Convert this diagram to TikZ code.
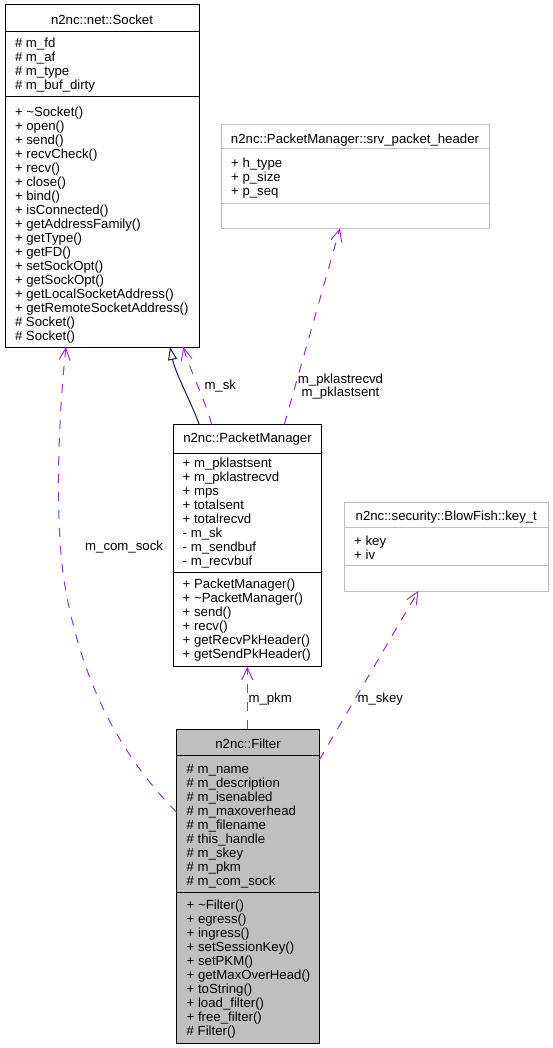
\documentclass[tikz,border=0pt]{standalone}
\usepackage{fontspec}
\setmainfont{Liberation Sans}
\usetikzlibrary{arrows.meta}
\definecolor{edgep}{HTML}{9A32CD}
\definecolor{edgeb}{HTML}{191970}
\definecolor{greyfill}{HTML}{BFBFBF}
\newcommand\dgfont{\fontsize{13.2pt}{14pt}\selectfont}
\begin{document}
\begin{tikzpicture}[x=1pt,y=-1pt,
  cls/.style={draw=black, line width=1pt, fill=white, inner sep=0pt, outer sep=0pt, anchor=north west, rectangle},
  gcls/.style={cls, draw=greyfill},
  fcls/.style={cls, fill=greyfill},
  sepline/.style={line width=1pt, draw=black},
  gsepline/.style={line width=1pt, draw=greyfill},
  ln/.style={anchor=base west, inner sep=0pt, font=\dgfont},
  tl/.style={anchor=base, inner sep=0pt, font=\dgfont},
  lbl/.style={anchor=base west, inner sep=0pt, font=\dgfont},
  dep/.style={draw=edgep, line width=1pt, dash pattern=on 9pt off 9pt, -{Straight Barb[length=12pt,width=11pt]}},
  inh/.style={draw=edgeb, line width=1pt, -{Triangle[open,length=13pt,width=9pt,fill=white]}}
]
\useasboundingbox (0,0) rectangle (552,1048);

% ---------- n2nc::net::Socket ----------
\node[cls, minimum width=194pt, minimum height=342pt] (socket) at (5,5) {};
\draw[sepline] (socket.west |- 0,32) -- (socket.east |- 0,32);
\draw[sepline] (socket.west |- 0,97) -- (socket.east |- 0,97);
\node[tl] (s-t) at (102,25) {n2nc::net::Socket};
\foreach \t [count=\i from 0] in {\# m\_fd, \# m\_af, \# m\_type, \# m\_buf\_dirty}
  \node[ln] (sa\i) at (14.8,{47.5+14*\i}) {\t};
\foreach \t [count=\i from 0] in {+ \textasciitilde Socket(), + open(), + send(), + recvCheck(), + recv(), + close(), + bind(), + isConnected(), + getAddressFamily(), + getType(), + getFD(), + setSockOpt(), + getSockOpt(), + getLocalSocketAddress(), + getRemoteSocketAddress(), \# Socket(), \# Socket()}
  \node[ln] (sm\i) at (14.8,{116.8+14*\i}) {\t};

% ---------- srv_packet_header ----------
\node[gcls, minimum width=268pt, minimum height=103.3pt] (srv) at (221,125) {};
\draw[gsepline] (srv.west |- 0,149) -- (srv.east |- 0,149);
\draw[gsepline] (srv.west |- 0,203.3) -- (srv.east |- 0,203.3);
\node[tl] (h-t) at (355,143.3) {n2nc::PacketManager::srv\_packet\_header};
\foreach \t [count=\i from 0] in {+ h\_type, + p\_size, + p\_seq}
  \node[ln] (ha\i) at (231,{167.5+14*\i}) {\t};

% ---------- BlowFish::key_t ----------
\node[gcls, minimum width=204pt, minimum height=88.7pt] (key) at (344.3,502.3) {};
\draw[gsepline] (key.west |- 0,527.7) -- (key.east |- 0,527.7);
\draw[gsepline] (key.west |- 0,565.7) -- (key.east |- 0,565.7);
\node[tl] (k-t) at (446.3,520) {n2nc::security::BlowFish::key\_t};
\foreach \t [count=\i from 0] in {+ key, + iv}
  \node[ln] (ka\i) at (354,{545+14*\i}) {\t};

% ---------- PacketManager ----------
\node[cls, minimum width=148.4pt, minimum height=242.2pt] (pm) at (173.3,424.5) {};
\draw[sepline] (pm.west |- 0,453.3) -- (pm.east |- 0,453.3);
\draw[sepline] (pm.west |- 0,572.7) -- (pm.east |- 0,572.7);
\node[tl] (p-t) at (247.5,442.5) {n2nc::PacketManager};
\foreach \t [count=\i from 0] in {+ m\_pklastsent, + m\_pklastrecvd, + mps, + totalsent, + totalrecvd, - m\_sk, - m\_sendbuf, - m\_recvbuf}
  \node[ln] (pa\i) at (182.5,{467.2+14*\i}) {\t};
\foreach \t [count=\i from 0] in {+ PacketManager(), + \textasciitilde PacketManager(), + send(), + recv(), + getRecvPkHeader(), + getSendPkHeader()}
  \node[ln] (pmm\i) at (182.5,{588.6+14*\i}) {\t};

% ---------- Filter ----------
\node[fcls, minimum width=142.6pt, minimum height=314pt] (filter) at (176.7,729.3) {};
\draw[sepline] (filter.west |- 0,755) -- (filter.east |- 0,755);
\draw[sepline] (filter.west |- 0,892.7) -- (filter.east |- 0,892.7);
\node[tl] (f-t) at (248,748.8) {n2nc::Filter};
\foreach \t [count=\i from 0] in {\# m\_name, \# m\_description, \# m\_isenabled, \# m\_maxoverhead, \# m\_filename, \# this\_handle, \# m\_skey, \# m\_pkm, \# m\_com\_sock}
  \node[ln] (fa\i) at (186.5,{773.5+14*\i}) {\t};
\foreach \t [count=\i from 0] in {+ \textasciitilde Filter(), + egress(), + ingress(), + setSessionKey(), + setPKM(), + getMaxOverHead(), + toString(), + load\_filter(), + free\_filter(), \# Filter()}
  \node[ln] (fm\i) at (186.5,{909.5+14*\i}) {\t};

% ---------- connectors ----------
\draw[inh] ([xshift=26pt]pm.north west) .. controls (190,400) and (175,372) .. ([xshift=165pt]socket.south west);
\draw[dep] ([xshift=38.4pt]pm.north west) .. controls (205,400) and (188,365) .. ([xshift=178.3pt]socket.south west);
\draw[dep] ([xshift=111pt]pm.north west) -- ([xshift=119pt]srv.south west);
\draw[dep] ([xshift=70.6pt]filter.north west) -- ([xshift=74pt]pm.south west);
\draw[dep] ([yshift=-30.7pt]filter.north east) -- ([xshift=74pt]key.south west);
\draw[dep] ([yshift=-83pt]filter.north west) .. controls (120,755) and (80,680) .. (64,580)
  .. controls (55,520) and (58,420) .. ([xshift=61pt]socket.south west);

% ---------- labels ----------
\node[lbl] (l-sk) at (204.3,389.5) {m\_sk};
\node[tl] (l-pk1) at (340.5,383.3) {m\_pklastrecvd};
\node[tl] (l-pk2) at (340.5,396.3) {m\_pklastsent};
\node[lbl] (l-pkm) at (248.3,702.3) {m\_pkm};
\node[lbl] (l-skey) at (357.3,702.3) {m\_skey};
\node[lbl] (l-cs) at (85,550) {m\_com\_sock};
\end{tikzpicture}
\end{document}
